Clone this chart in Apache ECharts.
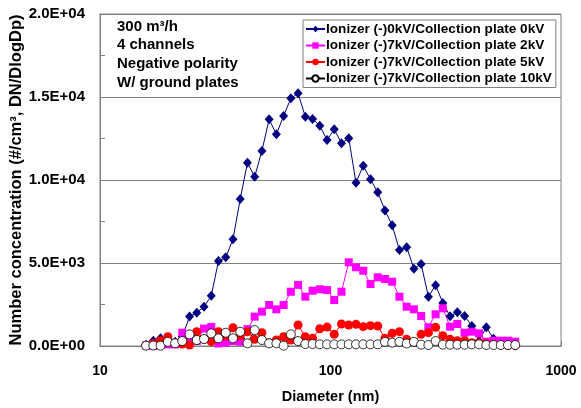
<!DOCTYPE html>
<html>
<head>
<meta charset="utf-8">
<script src="https://cdn.jsdelivr.net/npm/echarts@6/dist/echarts.min.js"></script>
<style>
html,body{margin:0;padding:0;background:#fff;}
#c{width:581px;height:408px;}
</style>
</head>
<body>
<div id="c"></div>
<script>
// Particle diameters (nm), one per channel
var diameters = [15.85, 17.03, 18.31, 19.69, 21.17, 22.75, 24.46, 26.29, 28.27, 30.39,
  32.66, 35.11, 37.75, 40.58, 43.62, 46.88, 50.40, 54.18, 58.24, 62.60,
  67.30, 72.34, 77.77, 83.60, 89.86, 96.61, 103.8, 111.6, 120.0, 129.0,
  138.7, 149.1, 160.3, 172.3, 185.2, 199.1, 214.0, 230.1, 247.3, 265.9,
  285.8, 307.2, 330.3, 355.1, 381.7, 410.3, 441.1, 474.2, 509.8, 548.0,
  588.8, 633.0];

var seriesNames = [
  'Ionizer (-)0kV/Collection plate 0kV',
  'Ionizer (-)7kV/Collection plate 2kV',
  'Ionizer (-)7kV/Collection plate 5kV',
  'Ionizer (-)7kV/Collection plate 10kV'
];

var plate0kV = [80, 320, 460, 300, 250, 560, 1770, 2010, 2370, 3030,
  5120, 5340, 6430, 8850, 11040, 10200, 11750, 13660, 12750, 13860,
  14920, 15220, 13810, 13680, 13270, 12410, 13050, 12210, 12510, 9840,
  10860, 10040, 9260, 8170, 7270, 5780, 5950, 4660, 4940, 2970,
  3660, 2590, 1790, 2030, 1810, 1210, 300, 1130, 440, 120,
  60, 30];

var plate2kV = [30, 0, 50, 100, 100, 800, 500, 300, 1050, 1150,
  150, 200, 300, 260, 1010, 1770, 2070, 2470, 2210, 2470,
  3270, 3680, 2970, 3330, 3415, 3373, 2771, 3271, 5042, 4741,
  4536, 3735, 4138, 4036, 3873, 2970, 2368, 2211, 1807, 1127,
  1910, 2271, 1163, 1325, 801, 861, 765, 259, 319, 319,
  319, 259];

var plate5kV = [30, 150, 320, 560, 160, 120, 60, 860, 400, 260,
  860, 600, 1100, 620, 860, 400, 800, 200, 360, 560,
  360, 1265, 560, 460, 1040, 1140, 710, 1325, 1265, 1305,
  1165, 1225, 1205, 462, 763, 863, 402, 221, 703, 803,
  1125, 622, 402, 321, 321, 201, 201, 140, 80, 50,
  30, 20];

var plate10kV = [20, 30, 20, 250, 160, 300, 700, 360, 420, 760,
  460, 800, 460, 860, 160, 960, 360, 160, 160, 20,
  700, 300, 120, 120, 100, 100, 100, 100, 100, 100,
  100, 100, 100, 250, 200, 250, 150, 250, 80, 60,
  300, 80, 80, 80, 80, 100, 100, 60, 60, 60,
  60, 60];

var annotationLines = ['300 m\u00b3/h', '4 channels', 'Negative polarity', 'W/ ground plates'];

function pairs(vals) {
  return vals.map(function (v, i) { return [diameters[i], v]; });
}

function sci(v) {
  if (v === 0) return '0.0E+00';
  var e = Math.floor(Math.log10(v));
  var m = v / Math.pow(10, e);
  return m.toFixed(1) + 'E+' + (e < 10 ? '0' + e : '' + e);
}

var FONT = 'Liberation Sans, Arial, sans-serif';
var chart = echarts.init(document.getElementById('c'), null, {renderer: 'canvas'});

var option = {
  animation: false,
  backgroundColor: '#ffffff',
  grid: {left: 100, right: 20, top: 14, bottom: 62, show: true, borderColor: '#808080', borderWidth: 1,
    containLabel: false, outerBoundsMode: 'none'},
  xAxis: {
    type: 'log', logBase: 10, min: 10, max: 1000,
    name: 'Diameter (nm)', nameLocation: 'middle', nameGap: 43, nameMoveOverlap: false,
    nameTextStyle: {fontFamily: FONT, fontWeight: 'bold', fontSize: 14.5, color: '#000'},
    axisLine: {show: true, lineStyle: {color: '#808080', width: 1}},
    axisTick: {show: true, inside: true, length: 5, lineStyle: {color: '#808080'}},
    splitLine: {show: false},
    axisLabel: {fontFamily: FONT, fontWeight: 'bold', fontSize: 14, color: '#000', margin: 18,
      formatter: function (v) { return String(Math.round(v)); }}
  },
  yAxis: {
    type: 'value', min: 0, max: 20000, interval: 5000,
    name: 'Number concentration (#/cm\u00b3, DN/DlogDp)', nameLocation: 'middle', nameGap: 75, nameMoveOverlap: false,
    nameTextStyle: {fontFamily: FONT, fontWeight: 'bold', fontSize: 16.5, color: '#000'},
    axisLine: {show: true, lineStyle: {color: '#808080', width: 1}},
    axisTick: {show: true, inside: true, length: 5, lineStyle: {color: '#808080'}},
    minorTick: {show: true, splitNumber: 2, length: 5, lineStyle: {color: '#808080'}},
    splitLine: {show: true, lineStyle: {color: '#808080', width: 1}},
    axisLabel: {fontFamily: FONT, fontWeight: 'bold', fontSize: 15, color: '#000', margin: 15, formatter: sci}
  },
  legend: {
    orient: 'vertical', left: 303, top: 20,
    backgroundColor: '#fff', borderColor: '#808080', borderWidth: 1,
    padding: [1, 4, 1, 2], itemGap: 0.5, itemWidth: 19, itemHeight: 8,
    textStyle: {fontFamily: FONT, fontWeight: 'bold', fontSize: 13.6, color: '#000', lineHeight: 16, padding: [0, 0, 0, -4]},
    data: seriesNames
  },
  graphic: annotationLines.map(function (t, i) {
    return {type: 'text', left: 117, top: 19 + i * 18.7,
      style: {text: t, fontFamily: FONT, fontWeight: 'bold', fontSize: 15, fill: '#000'}};
  }),
  series: [
    {name: seriesNames[0], type: 'line', data: pairs(plate0kV), symbol: 'diamond', symbolSize: [9, 10],
      lineStyle: {color: '#000080', width: 1}, itemStyle: {color: '#000080'}},
    {name: seriesNames[1], type: 'line', data: pairs(plate2kV), symbol: 'rect', symbolSize: 8,
      lineStyle: {color: '#ff00ff', width: 1}, itemStyle: {color: '#ff00ff'}},
    {name: seriesNames[2], type: 'line', data: pairs(plate5kV), symbol: 'circle', symbolSize: 9,
      lineStyle: {color: '#ff0000', width: 1}, itemStyle: {color: '#ff0000'}},
    {name: seriesNames[3], type: 'line', data: pairs(plate10kV), symbol: 'circle', symbolSize: 9,
      lineStyle: {color: '#000000', width: 1}, itemStyle: {color: '#ffffff', borderColor: '#000000', borderWidth: 0.8}}
  ]
};
chart.setOption(option);
</script>
</body>
</html>
